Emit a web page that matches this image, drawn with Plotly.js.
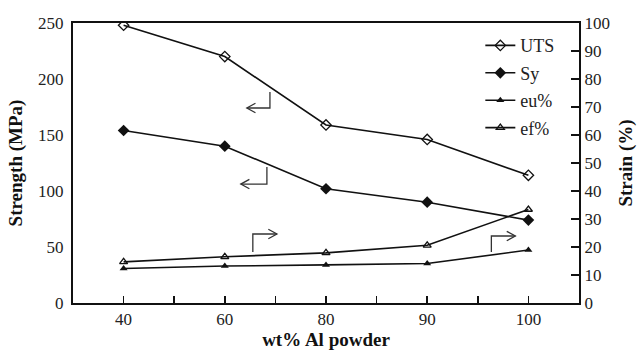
<!DOCTYPE html>
<html><head><meta charset="utf-8">
<script src="https://cdn.plot.ly/plotly-3.0.1.min.js"></script>
<style>html,body{margin:0;padding:0;background:#fff;}#chart{width:643px;height:353px;}</style>
</head><body><div id="chart"></div>
<script>
const categories = ['40','60','80','90','100'];
const utsValues = [248, 220, 159, 146, 114];
const syValues = [154, 140, 102, 90, 74];
const euValues = [12.3, 13.2, 13.6, 14.1, 18.9];
const efValues = [14.7, 16.5, 17.9, 20.6, 33.4];
const leftTicks = [0, 50, 100, 150, 200, 250];
const rightTicks = [0,10,20,30,40,50,60,70,80,90,100];

const xIdx = categories.map((c, i) => i);
const font = "Liberation Serif";
const tickFont = {family: font, size: 17, color: '#222'};
const lineStyle = {color: '#111', width: 1.6};

const traces = [
  {x: xIdx, y: utsValues, name: 'UTS', mode: 'lines+markers', line: lineStyle,
   marker: {symbol: 'diamond-open', size: 8, color: '#111', line: {width: 1.3, color: '#111'}}, legendgroup: 'a'},
  {x: xIdx, y: syValues, name: 'Sy', mode: 'lines+markers', line: lineStyle,
   marker: {symbol: 'diamond', size: 9, color: '#111'}, legendgroup: 'b'},
  {x: xIdx, y: euValues, name: 'eu%', mode: 'lines+markers', line: lineStyle, yaxis: 'y2',
   marker: {symbol: 'triangle-up', size: 7, color: '#111'}, legendgroup: 'c'},
  {x: xIdx, y: efValues, name: 'ef%', mode: 'lines+markers', line: lineStyle, yaxis: 'y2',
   marker: {symbol: 'triangle-up-open', size: 7, color: '#111', line: {width: 1.3, color: '#111'}}, legendgroup: 'd'}
];

// L-shaped pointer arrows (x in category index, y in left-axis units)
function lArrow(x0, yTop, yBot, xEnd, dir, vertFromTop) {
  const yCorner = vertFromTop ? yBot : yTop;
  const yStart = vertFromTop ? yTop : yBot;
  const hx = 0.085 * dir, hy = 4.2;
  return [
    {type: 'path', xref: 'x', yref: 'y', path: `M${x0},${yStart} L${x0},${yCorner} L${xEnd},${yCorner}`,
     line: {color: '#333', width: 1.3}},
    {type: 'path', xref: 'x', yref: 'y', path: `M${xEnd - hx},${yCorner + hy} L${xEnd},${yCorner} L${xEnd - hx},${yCorner - hy}`,
     line: {color: '#333', width: 1.3}}
  ];
}
const shapes = [].concat(
  lArrow(1.446, 188.4, 174.1, 1.218, -1, true),
  lArrow(1.416, 121.4, 106.2, 1.158, -1, true),
  lArrow(1.277, 61.6, 45.5, 1.515, 1, false),
  lArrow(3.634, 59.8, 45.5, 3.871, 1, false)
);

const layout = {
  width: 643, height: 353,
  margin: {l: 73, r: 64, t: 23, b: 50},
  paper_bgcolor: '#fff', plot_bgcolor: '#fff',
  font: {family: font, size: 17, color: '#222'},
  showlegend: true,
  legend: {x: 0.805, y: 0.985, xanchor: 'left', yanchor: 'top', bgcolor: 'rgba(0,0,0,0)',
           font: {family: font, size: 18, color: '#222'}, tracegroupgap: 1, itemwidth: 30},
  xaxis: {range: [-0.5, 4.5], tickmode: 'array', tickvals: xIdx, ticktext: categories, tickfont: tickFont,
          showline: true, linecolor: '#111', linewidth: 2, mirror: true,
          ticks: 'inside', ticklen: 7, tickwidth: 1.5, tickcolor: '#111',
          minor: {tickmode: 'linear', tick0: -0.5, dtick: 1, ticks: 'inside', ticklen: 7, tickwidth: 1.5, tickcolor: '#111'},
          showgrid: false, zeroline: false, fixedrange: true,
          title: {text: '<b>wt% Al powder</b>', font: {family: font, size: 19, color: '#111'}, standoff: 4}},
  yaxis: {range: [0, 250], tickvals: leftTicks, tickfont: tickFont, showline: true, linecolor: '#111', linewidth: 2,
          ticks: '', showgrid: false, zeroline: false, ticklabelstandoff: 4,
          title: {text: '<b>Strength (MPa)</b>', font: {family: font, size: 19, color: '#111'}, standoff: 10}},
  yaxis2: {range: [0, 100], tickvals: rightTicks, tickfont: tickFont, overlaying: 'y', side: 'right',
           showline: true, linecolor: '#111', linewidth: 2,
           ticks: 'inside', ticklen: 8, tickwidth: 1.5, tickcolor: '#111',
           showgrid: false, zeroline: false,
           title: {text: '<b>Strain (%)</b>', font: {family: font, size: 19, color: '#111'}, standoff: 10}},
  shapes: shapes
};

Plotly.newPlot('chart', traces, layout, {displayModeBar: false, staticPlot: true});
</script>
</body></html>
